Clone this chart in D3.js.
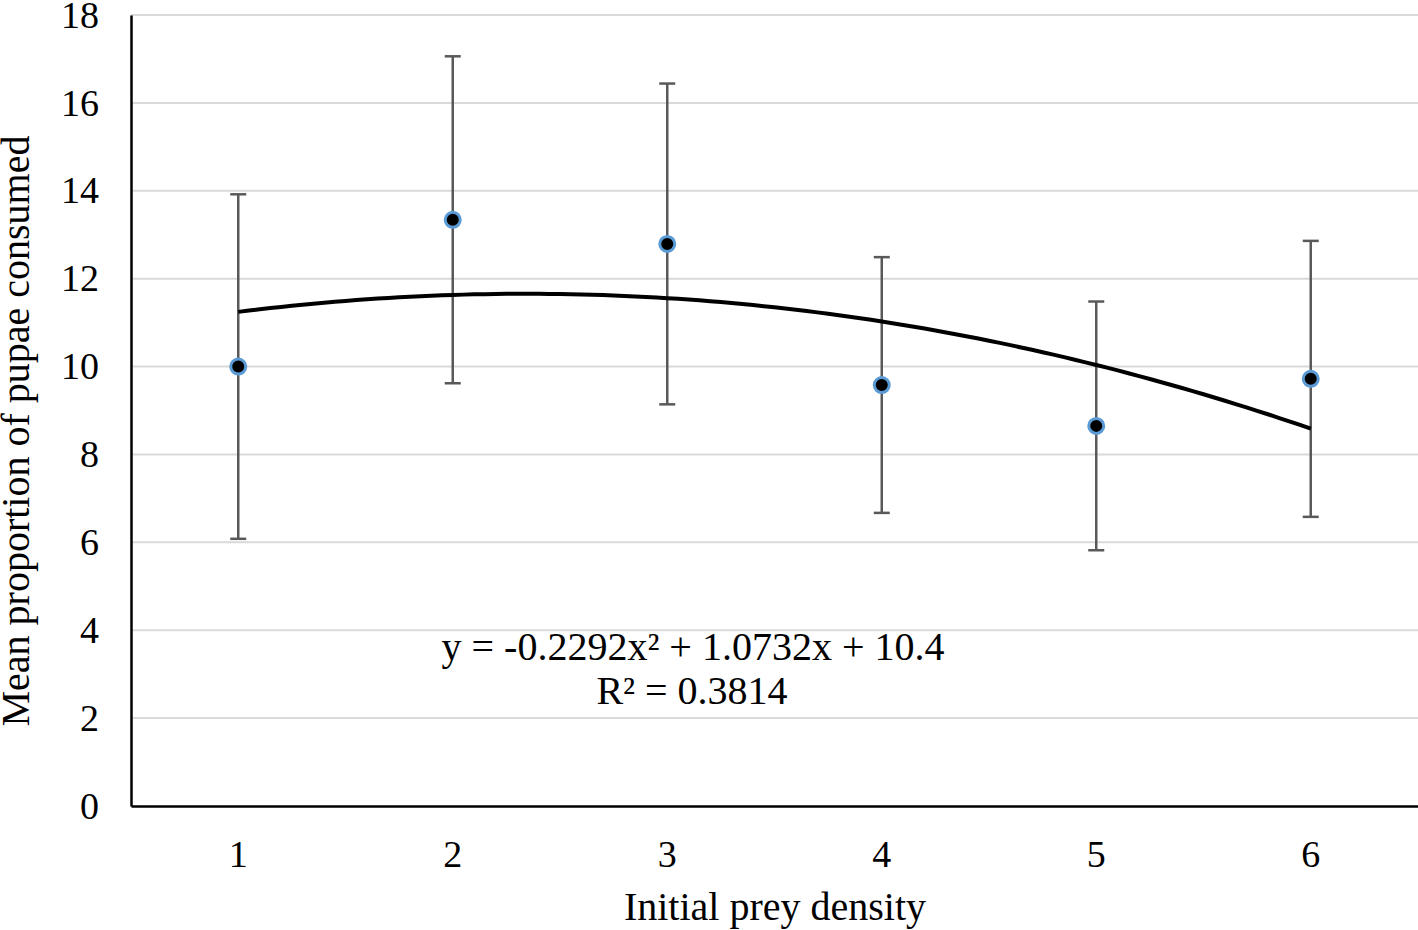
<!DOCTYPE html>
<html><head><meta charset="utf-8">
<script src="https://cdn.jsdelivr.net/npm/d3@7"></script>
<style>body{margin:0;background:#fff}svg{display:block}text{font-family:"Liberation Serif","Times New Roman",serif}</style>
</head><body>
<svg id="c" width="1418" height="930"></svg>
<script>
const categories = [1, 2, 3, 4, 5, 6];
const means = [10.0, 13.34, 12.79, 9.58, 8.65, 9.72];
const errors = [3.92, 3.72, 3.65, 2.91, 2.83, 3.14];
const yTicks = [0, 2, 4, 6, 8, 10, 12, 14, 16, 18];
const trendCoef = [-0.2292, 1.0732, 10.4];
const trendLabel = ["y = -0.2292x² + 1.0732x + 10.4", "R² = 0.3814"];
const xTitle = "Initial prey density";
const yTitle = "Mean proportion of pupae consumed";

const svg = d3.select("#c");
const L = 131, R = 1418, T = 15, B = 806;
const x = d3.scaleBand().domain(categories).range([L, R]);
const xc = d => x(d) + x.bandwidth() / 2;
const xl = d3.scaleLinear().domain([1, 6]).range([xc(1), xc(6)]);
const y = d3.scaleLinear().domain([0, 18]).range([B, T]);

// gridlines
svg.append("g").selectAll("line").data(yTicks.filter(t => t > 0)).join("line")
  .attr("x1", L).attr("x2", R).attr("y1", d => y(d)).attr("y2", d => y(d))
  .attr("stroke", "#d9d9d9").attr("stroke-width", 2);

// y axis
const ya = svg.append("g").attr("transform", `translate(${L},0)`)
  .call(d3.axisLeft(y).tickValues(yTicks).tickSize(0).tickPadding(32));
ya.select(".domain").attr("stroke", "#000").attr("stroke-width", 2.5);
ya.selectAll("text").attr("font-size", 38).attr("fill", "#000")
  .attr("font-family", "'Liberation Serif', serif");

// x axis
const xa = svg.append("g").attr("transform", `translate(0,${B})`)
  .call(d3.axisBottom(x).tickSize(0).tickPadding(34));
xa.select(".domain").attr("stroke", "#000").attr("stroke-width", 2.5);
xa.selectAll("text").attr("font-size", 38).attr("fill", "#000")
  .attr("font-family", "'Liberation Serif', serif");

// error bars
const eb = svg.append("g").selectAll("g").data(categories).join("g");
eb.append("line").attr("x1", (d) => xc(d)).attr("x2", d => xc(d))
  .attr("y1", (d, i) => y(means[i] + errors[i])).attr("y2", (d, i) => y(means[i] - errors[i]))
  .attr("stroke", "#595959").attr("stroke-width", 2.5);
[1, -1].forEach(s => {
  eb.append("line").attr("x1", d => xc(d) - 8).attr("x2", d => xc(d) + 8)
    .attr("y1", (d, i) => y(means[i] + s * errors[i])).attr("y2", (d, i) => y(means[i] + s * errors[i]))
    .attr("stroke", "#595959").attr("stroke-width", 2.5);
});

// trendline
const tx = d3.range(1, 6.001, 0.05);
svg.append("path").datum(tx)
  .attr("d", d3.line().x(v => xl(v)).y(v => y(trendCoef[0] * v * v + trendCoef[1] * v + trendCoef[2])))
  .attr("fill", "none").attr("stroke", "#000").attr("stroke-width", 4);

// points
svg.append("g").selectAll("circle").data(categories).join("circle")
  .attr("cx", d => xc(d)).attr("cy", (d, i) => y(means[i])).attr("r", 7.5)
  .attr("fill", "#000").attr("stroke", "#5b9bd5").attr("stroke-width", 3);

// trend label
svg.append("text").attr("x", 693).attr("y", 660).attr("text-anchor", "middle")
  .attr("font-size", 40).text(trendLabel[0]);
svg.append("text").attr("x", 692).attr("y", 704).attr("text-anchor", "middle")
  .attr("font-size", 40).text(trendLabel[1]);

// titles
svg.append("text").attr("x", 775).attr("y", 920).attr("text-anchor", "middle")
  .attr("font-size", 40).text(xTitle);
svg.append("text").attr("transform", "translate(29,431) rotate(-90)").attr("text-anchor", "middle")
  .attr("font-size", 40).text(yTitle);
</script>
</body></html>
